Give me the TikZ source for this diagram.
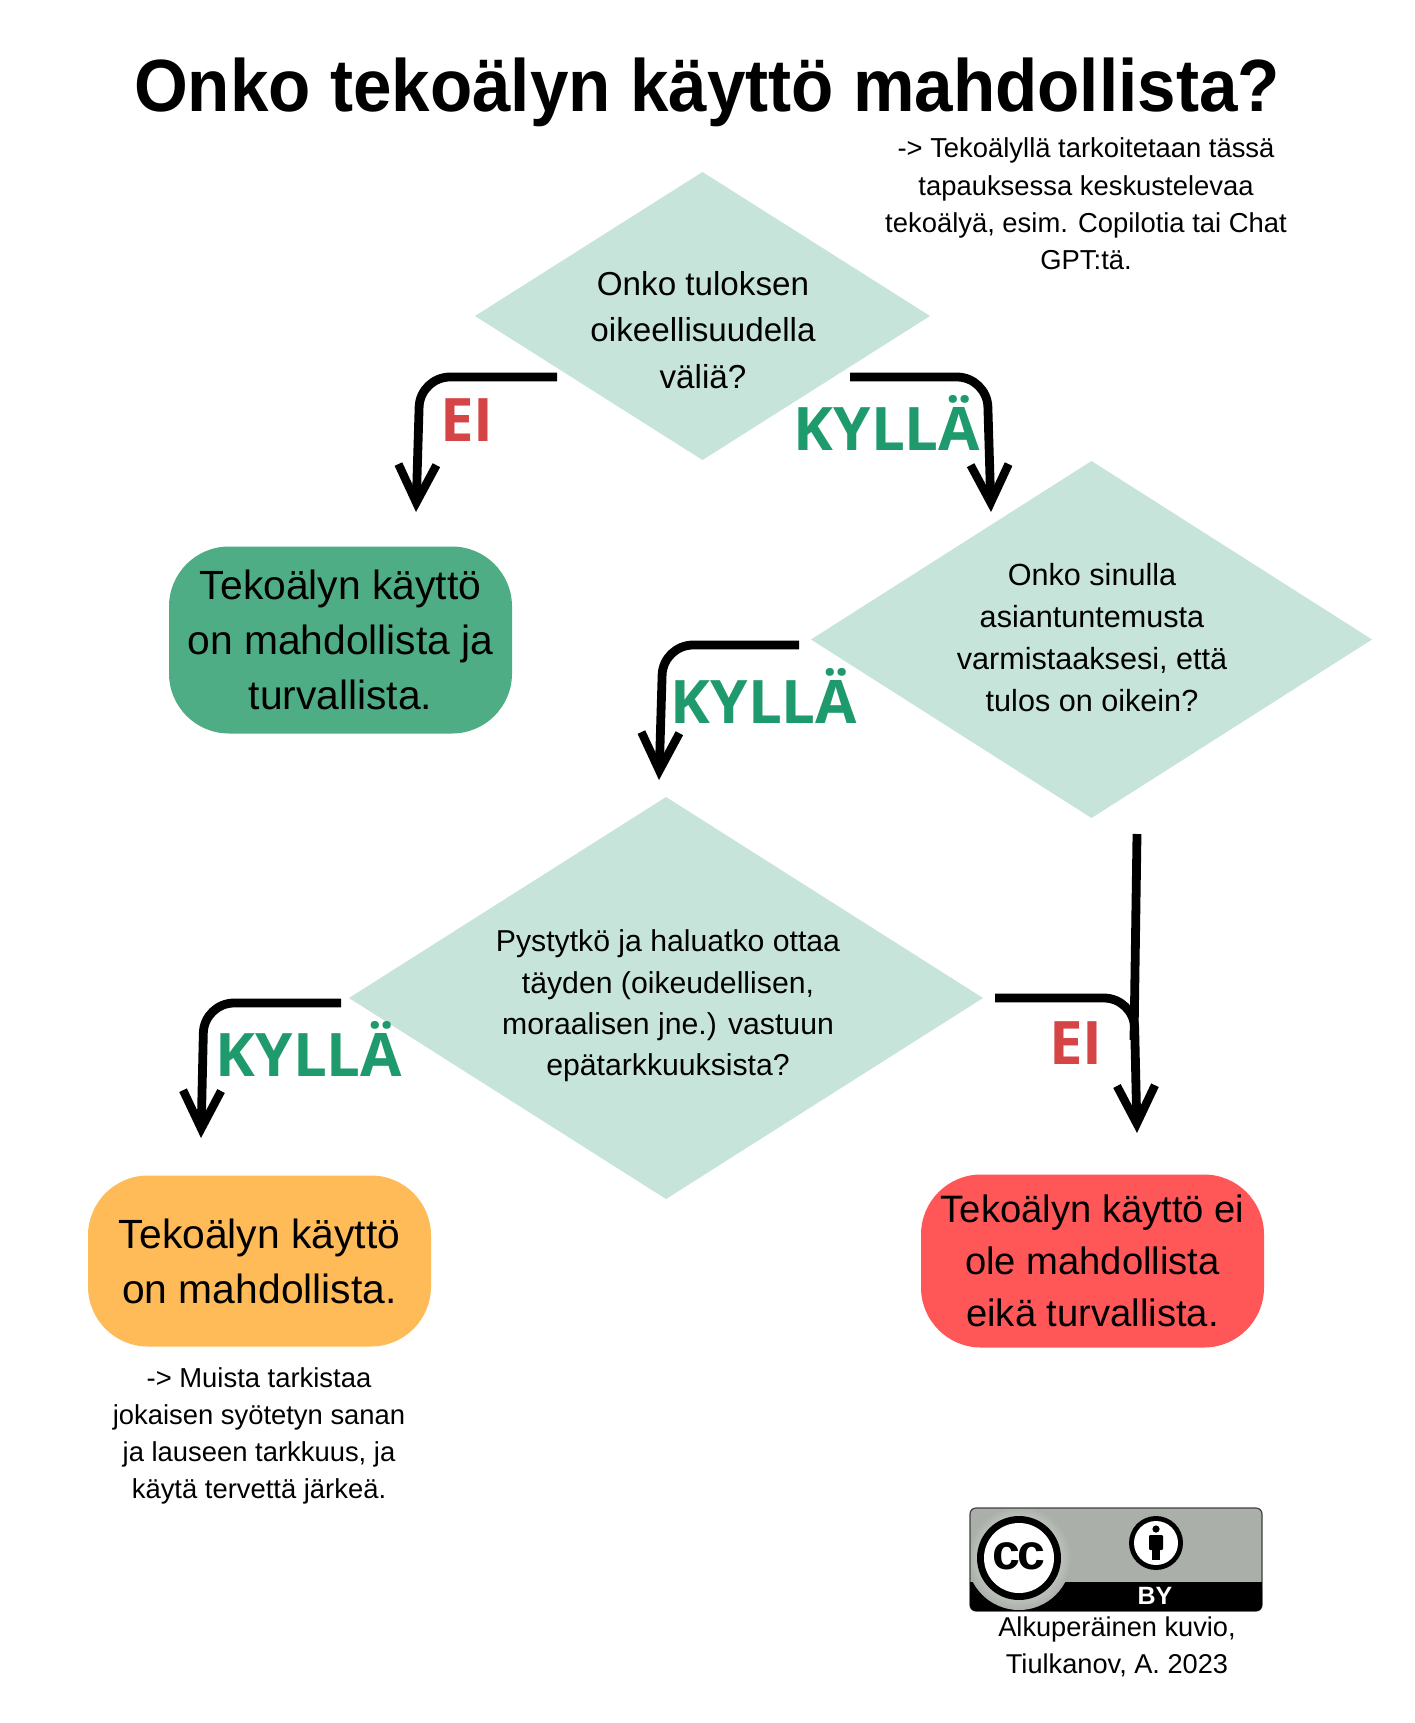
\documentclass[tikz,border=0pt]{standalone}
\usepackage{fontspec}
\usepackage{xcolor}
\setmainfont{Liberation Sans}
\newfontfamily\labelfont{Open Sans}
\usetikzlibrary{positioning,arrows.meta,shapes.geometric}
\definecolor{qfill}{HTML}{C7E4DA}
\definecolor{yesfill}{HTML}{4FAD85}
\definecolor{maybefill}{HTML}{FFBB57}
\definecolor{nofill}{HTML}{FF5757}
\definecolor{yesink}{HTML}{1F9A6C}
\definecolor{noink}{HTML}{D64545}
\definecolor{badgegray}{HTML}{AAB0A9}
\tikzset{
  question/.style={diamond,fill=qfill,inner sep=0pt,outer sep=0pt},
  qtext/.style={align=center,font=\fontsize{15.3}{21}\selectfont},
  result/.style={rectangle,rounded corners=30pt,align=center,minimum width=171.5pt,inner sep=0pt,font=\fontsize{20.4}{27.5}\selectfont},
  note/.style={align=center,font=\fontsize{13.7}{18.6}\selectfont},
  yeslabel/.style={anchor=base,text=yesink,font=\labelfont\bfseries\fontsize{30}{30}\selectfont},
  nolabel/.style={anchor=base,text=noink,font=\labelfont\bfseries\fontsize{30}{30}\selectfont},
  flow/.style={draw=black,line width=4.4pt,rounded corners=15pt,-{Straight Barb[length=19pt,width=19pt,line width=4.2pt]}},
}
\begin{document}
\begin{tikzpicture}[x=0.5pt,y=-0.5pt]
\useasboundingbox (0,0) rectangle (1414,1723);
\fill[white] (0,0) rectangle (1414,1723);
% title
\node[font=\bfseries\fontsize{37}{40}\selectfont,xscale=.935] (title) at (707,92) {Onko tekoälyn käyttö mahdollista?};
\node[note] (aboutnote) at (1086,204) {-> Tekoälyllä tarkoitetaan tässä\\tapauksessa keskustelevaa\\tekoälyä, esim. Copilotia tai Chat\\GPT:tä.};
% questions
\node[question,minimum width=227.5pt,minimum height=144pt] (q1) at (702.5,316) {};
\node[question,minimum width=280.5pt,minimum height=178.5pt] (q2) at (1091.5,639.5) {};
\node[question,minimum width=317pt,minimum height=201pt] (q3) at (666,998) {};
\node[qtext,font=\fontsize{16.6}{23.4}\selectfont] (q1text) at (703,330) {Onko tuloksen\\oikeellisuudella\\väliä?};
\node[qtext] (q2text) at (1092,638) {Onko sinulla\\asiantuntemusta\\varmistaaksesi, että\\tulos on oikein?};
\node[qtext,font=\fontsize{15.1}{20.7}\selectfont] (q3text) at (668,1006) {Pystytkö ja haluatko ottaa\\täyden (oikeudellisen,\\moraalisen jne.) vastuun\\epätarkkuuksista?};
% results
\node[result,fill=yesfill,minimum height=93.5pt] (safe) at (340.5,640) {Tekoälyn käyttö\\on mahdollista ja\\turvallista.};
\node[result,fill=maybefill,minimum height=85.5pt] (possible) at (259.5,1261) {Tekoälyn käyttö\\on mahdollista.};
\node[result,fill=nofill,minimum height=86.5pt,font=\fontsize{19.1}{26}\selectfont] (unsafe) at (1092.5,1261) {Tekoälyn käyttö ei\\ole mahdollista\\eikä turvallista.};
\node[note] (checknote) at (259,1436) {-> Muista tarkistaa\\jokaisen syötetyn sanan\\ja lauseen tarkkuus, ja\\käytä tervettä järkeä.};
% connector ends
\coordinate (q1no) at (557,377);
\coordinate (q1noend) at (416,512);
\coordinate (q1yes) at (850,377);
\coordinate (q1yesend) at (991,512);
\coordinate (q2yes) at (799,645);
\coordinate (q2yesend) at (659,780);
\coordinate (q2no) at (1137,834);
\coordinate (q2nojoin) at (1134,1040);
\coordinate (q3yes) at (341,1003);
\coordinate (q3yesend) at (201,1138);
\coordinate (q3no) at (995,998);
\coordinate (q3noend) at (1137,1133);
% connectors
\draw[flow] (q1no) -- (420,377) -- (q1noend);
\draw[flow] (q1yes) -- (987,377) -- (q1yesend);
\draw[flow] (q2yes) -- (663,645) -- (q2yesend);
\draw[flow] (q3yes) -- (204,1003) -- (q3yesend);
\draw[flow] (q3no) -- (1134,998) -- (q3noend);
\draw[line width=4.4pt] (q2no) -- (q2nojoin);
% connector labels
\node[nolabel] (lab1) at (467,441) {EI};
\node[yeslabel] (lab2) at (887,450) {KYLLÄ};
\node[yeslabel] (lab3) at (764,723) {KYLLÄ};
\node[yeslabel] (lab4) at (309,1076) {KYLLÄ};
\node[nolabel] (lab5) at (1076,1064) {EI};
% licence badge
\filldraw[fill=badgegray,draw=black!75,line width=.6pt,rounded corners=3pt] (970,1508) rectangle (1262,1611);
\fill[black,rounded corners=3pt] (970,1582) rectangle (1262,1611);
\fill[black] (970,1582) rectangle (1262,1595);
\begin{scope}
\clip[rounded corners=3pt] (971,1509) rectangle (1261,1610);
\shade[inner color=white,outer color=badgegray] (1019,1558) circle (26pt);
\end{scope}
\fill[black] (1019,1558) circle (21pt);
\fill[white] (1019,1558) circle (17.5pt);
\node[font=\bfseries\fontsize{25}{25}\selectfont] (cclogo) at (1019,1556) {c\kern-1.2pt c};
\fill[black] (1156,1543) circle (13.5pt);
\fill[white] (1156,1543) circle (11pt);
\fill[black] (1156,1529) circle (1.8pt);
\fill[black,rounded corners=.6pt] (1149,1535) rectangle (1163,1550);
\fill[black] (1152,1545) rectangle (1160,1560);
\node[anchor=base,text=white,font=\bfseries\fontsize{12.5}{13}\selectfont] (bylogo) at (1155,1604) {BY};
\node[note,font=\fontsize{13.6}{18.4}\selectfont] (credit) at (1117,1647) {Alkuperäinen kuvio,\\Tiulkanov, A. 2023};
\end{tikzpicture}
\end{document}
